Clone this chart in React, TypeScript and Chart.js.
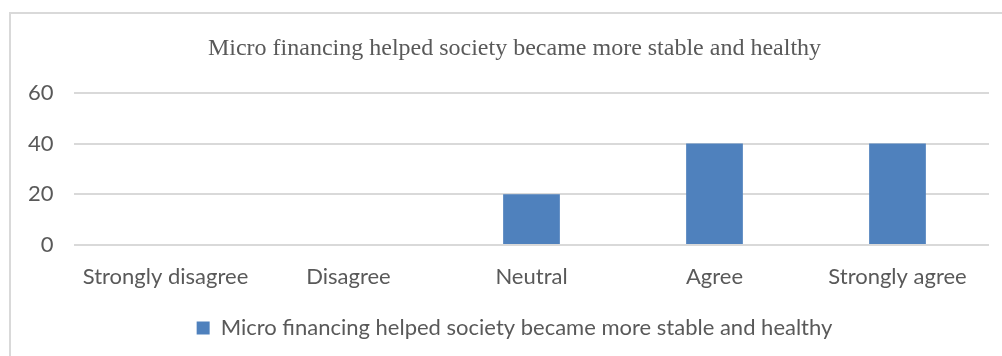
import React, { useEffect, useRef } from "react";
import { Chart, registerables } from "chart.js";

Chart.register(...registerables);

const categories = ["Strongly disagree", "Disagree", "Neutral", "Agree", "Strongly agree"];
const seriesName = "Micro financing helped society became more stable and healthy";
const seriesValues = [0, 0, 20, 40, 40];
const titleText = "Micro financing helped society became more stable and healthy";
const yMin = 0;
const yMax = 60;
const yStep = 20;

const TEXT = "#595959";
const GRID = "#D9D9D9";
const BAR = "#4F81BD";
const SANS = "Lato, 'Open Sans', sans-serif";
const SERIF = "'Liberation Serif', 'Times New Roman', serif";

export default function App() {
  const ref = useRef<HTMLCanvasElement | null>(null);

  useEffect(() => {
    if (!ref.current) return;
    const chart = new Chart(ref.current, {
      type: "bar",
      data: {
        labels: categories,
        datasets: [
          {
            label: seriesName,
            data: seriesValues,
            backgroundColor: BAR,
            borderWidth: 0,
            categoryPercentage: 1,
            barPercentage: 0.31,
          },
        ],
      },
      options: {
        animation: false,
        responsive: false,
        maintainAspectRatio: false,
        layout: { padding: { left: 40, right: 13, top: 0, bottom: 7 } },
        plugins: {
          title: {
            display: true,
            text: titleText,
            color: TEXT,
            font: { family: SERIF, size: 24, weight: "normal" },
            padding: { top: 34, bottom: 30 },
          },
          legend: {
            display: true,
            position: "bottom",
            labels: {
              color: TEXT,
              font: { family: SANS, size: 22 },
              boxWidth: 13,
              boxHeight: 13,
              padding: 10,
            },
          },
          tooltip: { enabled: false },
        },
        scales: {
          x: {
            grid: { display: false, drawTicks: false },
            border: { display: false },
            ticks: {
              color: TEXT,
              font: { family: SANS, size: 22 },
              padding: 19,
              maxRotation: 0,
              autoSkip: false,
            },
            afterFit: (s: any) => {
              s.height = 62;
            },
          },
          y: {
            min: yMin,
            max: yMax,
            grid: { color: GRID, lineWidth: 2, drawTicks: false },
            border: { display: false },
            ticks: {
              stepSize: yStep,
              color: TEXT,
              font: { family: SANS, size: 22 },
              mirror: true,
              crossAlign: "far",
              padding: -46,
            },
            afterFit: (s: any) => {
              s.width = 34;
            },
          },
        },
      },
    });
    return () => chart.destroy();
  }, []);

  return (
    <div style={{ position: "absolute", left: 0, top: 0, width: 1002, height: 356, overflow: "hidden", background: "#fff" }}>
      <div
        style={{
          position: "absolute",
          left: 9,
          top: 12,
          width: 1100,
          height: 400,
          borderTop: "2px solid #D9D9D9",
          borderLeft: "2px solid #D9D9D9",
        }}
      />
      <canvas ref={ref} width={1002} height={356} style={{ position: "absolute", left: 0, top: 0 }} />
    </div>
  );
}
